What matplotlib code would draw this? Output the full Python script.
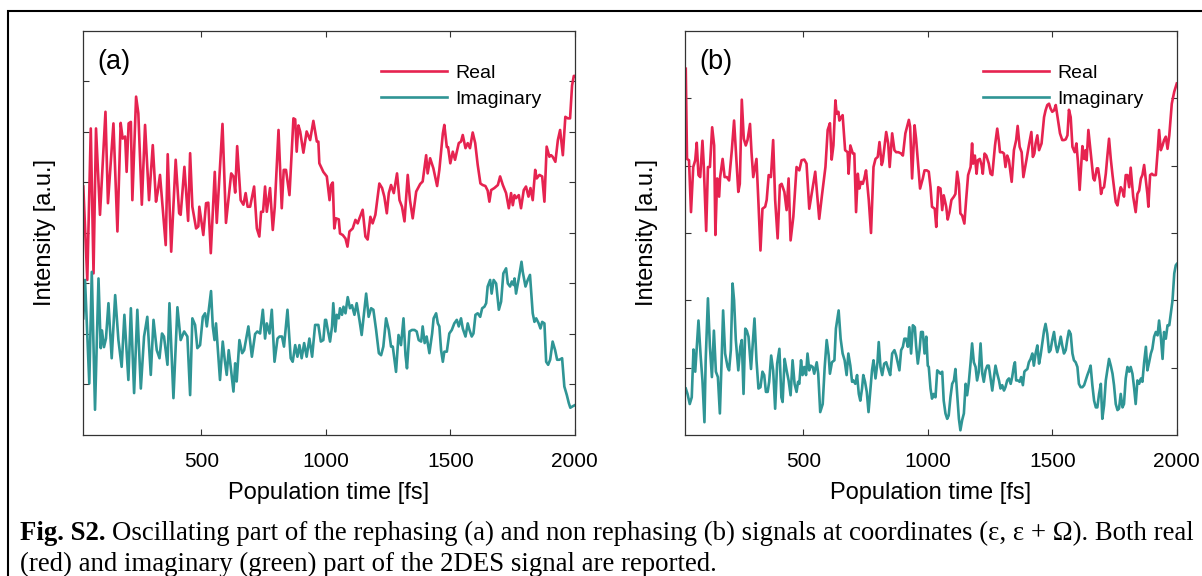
import matplotlib
matplotlib.use("Agg")
import matplotlib.pyplot as plt
from matplotlib.patches import Rectangle

plt.rcParams['font.family'] = ['Liberation Sans', 'DejaVu Sans']

# Panel (a): rephasing, real part
t_re_a = [26, 42, 56, 67, 77, 93, 115, 125, 147, 163, 176, 184, 194, 200, 208, 217, 223, 238, 247, 261,
          274, 290, 305, 318, 325, 334, 357, 365, 379, 397, 411, 417, 432, 447, 455, 464, 479, 488, 492, 508,
          519, 528, 538, 554, 562, 585, 599, 620, 629, 636, 644, 658, 669, 678, 686, 696, 712, 723, 733, 740,
          748, 756, 763, 776, 787, 795, 810, 823, 831, 840, 854, 870, 877, 883, 890, 897, 910, 923, 937, 950,
          964, 970, 974, 990, 1004, 1015, 1021, 1028, 1034, 1041, 1052, 1057, 1068, 1079, 1087, 1095, 1108, 1119, 1128, 1135,
          1148, 1159, 1168, 1179, 1188, 1199, 1215, 1226, 1235, 1245, 1253, 1262, 1273, 1286, 1296, 1306, 1316, 1329, 1338, 1349,
          1363, 1379, 1389, 1403, 1409, 1419, 1432, 1447, 1456, 1470, 1476, 1486, 1491, 1500, 1510, 1519, 1534, 1543, 1550, 1561,
          1570, 1579, 1590, 1600, 1610, 1621, 1630, 1641, 1650, 1657, 1664, 1677, 1691, 1700, 1711, 1724, 1735, 1744, 1751, 1758,
          1764, 1775, 1784, 1795, 1804, 1814, 1822, 1831, 1841, 1847, 1858, 1869, 1878, 1887, 1898, 1905, 1911, 1922, 1932, 1941,
          1952, 1962, 1972, 1981, 1989, 1996, 2000]
re_a = [0.92, -0.93, 2.07, -0.80, 2.07, 0.36, 2.40, 0.59, 2.17, 0.03, 2.18, 1.87, 1.91, 1.21, 2.17, 2.20, 0.65, 2.70, 2.37, 0.56,
        2.14, 0.65, 1.74, 0.62, 0.82, 1.15, -0.24, 1.56, -0.37, 1.45, 0.39, 0.36, 1.31, 0.24, 1.58, 0.52, 0.09, 0.13, 0.52, -0.04,
        0.59, 0.60, -0.40, 1.21, 0.20, 2.16, 0.20, 1.18, 1.12, 0.80, 1.72, 0.65, 0.56, 0.79, 0.52, 0.52, 0.92, 0.09, -0.07, 0.42,
        0.42, 0.92, 0.42, 0.89, 0.06, 0.52, 2.04, 0.49, 1.25, 1.25, 0.75, 2.27, 2.25, 1.61, 2.13, 2.01, 1.59, 2.01, 1.84, 2.22,
        1.81, 1.81, 1.38, 1.21, 1.12, 0.65, 0.95, 1.00, 0.09, 0.29, 0.27, -0.01, -0.04, -0.11, -0.27, 0.03, 0.09, 0.26, 0.19, 0.29,
        0.46, -0.07, -0.13, 0.32, 0.19, 0.36, 0.98, 0.89, 0.72, 0.39, 0.79, 0.95, 0.79, 1.18, 0.65, 0.52, 0.23, 1.15, 0.65, 0.29,
        0.82, 0.97, 1.02, 1.54, 1.18, 1.48, 1.28, 0.93, 1.25, 1.97, 2.14, 1.70, 1.70, 1.38, 1.61, 1.45, 1.78, 1.81, 1.94, 1.68,
        1.78, 1.68, 1.99, 1.78, 1.35, 0.98, 0.95, 0.93, 0.84, 0.62, 0.85, 0.89, 0.95, 1.12, 0.95, 0.79, 0.49, 0.79, 0.55, 0.75,
        0.69, 0.75, 0.49, 0.85, 0.92, 0.72, 0.89, 0.65, 1.25, 1.08, 1.15, 1.12, 0.62, 1.71, 1.51, 1.54, 1.51, 1.41, 1.84, 2.04,
        1.54, 2.30, 2.27, 2.27, 2.92, 3.11, 3.11]

# Panel (a): rephasing, imaginary part
t_im_a = [26, 33, 42, 50, 60, 73, 87, 96, 101, 109, 117, 127, 140, 154, 167, 180, 191, 207, 217, 230,
          243, 257, 270, 283, 297, 308, 321, 332, 342, 350, 364, 372, 388, 404, 417, 431, 444, 455, 464, 475,
          484, 495, 506, 515, 522, 529, 539, 546, 553, 559, 575, 586, 594, 602, 610, 618, 629, 636, 642, 653,
          664, 672, 689, 703, 716, 725, 736, 747, 756, 763, 774, 783, 794, 806, 814, 824, 832, 846, 859, 867,
          877, 886, 894, 903, 913, 923, 934, 945, 957, 970, 980, 990, 997, 1001, 1008, 1017, 1025, 1030, 1038, 1044,
          1052, 1057, 1065, 1071, 1079, 1088, 1097, 1105, 1115, 1124, 1135, 1144, 1152, 1162, 1172, 1182, 1191, 1202, 1213, 1222,
          1231, 1242, 1253, 1262, 1269, 1282, 1292, 1302, 1312, 1320, 1326, 1336, 1346, 1356, 1365, 1373, 1383, 1389, 1397, 1405,
          1416, 1427, 1433, 1443, 1450, 1456, 1463, 1470, 1476, 1486, 1496, 1506, 1516, 1526, 1534, 1543, 1550, 1561, 1570, 1577,
          1586, 1593, 1601, 1610, 1620, 1628, 1637, 1644, 1650, 1660, 1666, 1674, 1684, 1695, 1704, 1713, 1724, 1731, 1740, 1747,
          1754, 1758, 1764, 1775, 1786, 1791, 1802, 1811, 1820, 1831, 1838, 1845, 1855, 1862, 1869, 1878, 1885, 1893, 1901, 1911,
          1921, 1929, 1938, 1949, 1958, 1968, 1976, 1982, 1992, 2000]
im_a = [-1.69, -0.93, -1.99, -2.98, -0.77, -3.50, -0.90, -2.28, -1.93, -2.26, -2.09, -1.39, -2.48, -1.23, -2.12, -2.65, -1.62, -2.91, -1.49, -3.17,
        -1.52, -3.08, -2.05, -1.66, -2.81, -1.72, -2.32, -2.48, -1.99, -2.05, -2.61, -1.39, -3.27, -1.47, -2.12, -1.95, -2.05, -3.21, -1.69, -1.82,
        -2.28, -2.22, -1.66, -1.59, -1.85, -1.56, -1.15, -1.85, -2.12, -1.79, -2.91, -2.15, -2.51, -2.81, -2.32, -2.65, -3.14, -2.58, -2.94, -2.12,
        -2.38, -2.32, -1.85, -2.45, -2.00, -1.95, -1.99, -1.52, -2.09, -1.79, -1.99, -1.52, -2.55, -2.09, -2.05, -2.05, -2.25, -1.52, -2.48, -2.55,
        -2.22, -2.45, -2.22, -2.48, -2.18, -2.45, -2.09, -2.45, -1.82, -1.82, -2.15, -2.12, -1.72, -1.72, -1.92, -2.15, -1.85, -1.39, -1.95, -1.62,
        -1.69, -1.49, -1.62, -1.46, -1.59, -1.27, -1.49, -1.43, -1.62, -1.39, -1.72, -2.02, -1.66, -1.20, -1.66, -1.49, -1.52, -1.92, -2.38, -2.42,
        -2.25, -1.69, -1.92, -2.25, -2.25, -2.75, -2.02, -2.22, -1.69, -2.42, -2.68, -1.95, -1.92, -1.92, -1.95, -2.12, -2.15, -1.85, -2.18, -2.05,
        -2.38, -1.99, -1.69, -1.59, -1.79, -1.85, -2.32, -2.55, -2.35, -2.35, -1.99, -1.92, -1.79, -1.72, -1.85, -1.69, -1.89, -2.05, -1.79, -1.92,
        -2.05, -1.99, -1.62, -1.59, -1.66, -1.49, -1.46, -1.39, -1.06, -0.93, -1.20, -0.93, -1.00, -1.52, -1.36, -0.80, -0.70, -1.00, -1.06, -0.96,
        -1.03, -0.90, -1.20, -0.90, -0.57, -0.77, -1.06, -0.93, -0.83, -1.59, -1.76, -1.69, -1.79, -1.89, -1.76, -1.79, -2.55, -2.61, -2.51, -2.15,
        -2.32, -2.51, -2.51, -2.48, -3.04, -3.21, -3.37, -3.46, -3.43, -3.41]

# Panel (b): non rephasing, real part
t_re_b = [28, 33, 41, 49, 58, 66, 72, 79, 86, 95, 100, 110, 117, 125, 134, 142, 147, 154, 162, 166,
          176, 184, 193, 202, 213, 222, 229, 239, 245, 253, 261, 269, 276, 286, 292, 299, 312, 320, 328, 336,
          347, 353, 361, 370, 379, 387, 397, 406, 413, 424, 433, 441, 449, 460, 473, 484, 493, 504, 513, 524,
          535, 548, 564, 575, 589, 598, 607, 614, 621, 629, 634, 641, 645, 652, 658, 668, 678, 682, 689, 699,
          705, 712, 719, 725, 732, 739, 745, 752, 763, 772, 782, 790, 799, 806, 815, 819, 833, 841, 847, 857,
          866, 873, 882, 893, 900, 910, 924, 929, 937, 947, 953, 960, 969, 980, 987, 996, 1004, 1011, 1017, 1028,
          1034, 1042, 1051, 1058, 1064, 1074, 1080, 1087, 1095, 1105, 1111, 1118, 1125, 1131, 1138, 1147, 1154, 1162, 1172, 1178,
          1182, 1189, 1196, 1201, 1209, 1216, 1221, 1228, 1235, 1245, 1252, 1259, 1270, 1279, 1286, 1290, 1299, 1306, 1312, 1319,
          1326, 1337, 1346, 1355, 1361, 1369, 1377, 1384, 1396, 1406, 1416, 1422, 1428, 1433, 1440, 1447, 1457, 1467, 1473, 1480,
          1487, 1493, 1500, 1507, 1514, 1520, 1531, 1540, 1547, 1554, 1561, 1567, 1574, 1581, 1590, 1597, 1603, 1610, 1615, 1621,
          1628, 1634, 1638, 1645, 1652, 1658, 1665, 1670, 1679, 1684, 1691, 1696, 1701, 1708, 1715, 1721, 1728, 1735, 1742, 1748,
          1755, 1762, 1768, 1775, 1782, 1788, 1795, 1802, 1809, 1815, 1825, 1835, 1842, 1849, 1856, 1862, 1869, 1876, 1882, 1886,
          1893, 1900, 1906, 1916, 1923, 1929, 1936, 1943, 1949, 1956, 1963, 1970, 1980, 1990, 1996, 2000]
re_b = [2.44, 1.10, 1.08, 0.31, 0.98, 1.08, 1.34, 0.86, 0.83, 1.37, 1.03, 0.03, 0.98, 0.98, 1.57, 1.30, -0.03, 0.81, 0.54, 0.83,
        1.10, 0.83, 0.83, 0.78, 1.23, 1.67, 1.23, 0.61, 0.73, 1.98, 1.40, 1.30, 1.38, 1.62, 1.20, 0.83, 1.10, 0.44, -0.26, 0.36,
        0.39, 0.49, 0.86, 0.83, 1.38, 0.49, -0.08, 0.71, 0.73, 0.61, 0.34, 0.81, -0.11, 0.24, 0.98, 0.93, 1.08, 1.09, 1.03, 0.36,
        0.61, 0.91, 0.21, 0.56, 0.98, 1.53, 1.63, 1.09, 1.30, 1.97, 1.77, 1.80, 1.67, 1.72, 1.75, 1.23, 1.20, 0.88, 1.30, 1.18,
        1.18, 0.31, 0.88, 0.66, 0.76, 0.73, 0.81, 0.93, 0.49, 0.00, 0.98, 1.10, 1.13, 1.35, 1.01, 1.06, 1.50, 1.33, 0.98, 1.48,
        1.23, 1.20, 1.20, 1.18, 1.15, 1.48, 1.68, 1.58, 0.81, 1.60, 1.40, 1.08, 0.66, 0.81, 0.93, 0.93, 0.91, 0.68, 0.39, 0.36,
        0.09, 0.68, 0.66, 0.34, 0.56, 0.39, 0.20, 0.31, 0.49, 0.54, 0.58, 0.91, 0.73, 0.29, 0.26, 0.14, 0.49, 0.86, 0.98, 1.33,
        1.03, 1.15, 0.88, 1.08, 1.10, 1.01, 0.88, 1.18, 1.15, 1.03, 0.88, 0.86, 1.30, 1.55, 1.35, 1.20, 1.20, 1.18, 0.98, 1.15,
        1.08, 0.76, 1.23, 1.38, 1.59, 1.28, 1.20, 0.83, 1.08, 1.30, 1.50, 1.13, 1.18, 1.33, 1.45, 1.23, 1.33, 1.72, 1.82, 1.90,
        1.92, 1.85, 1.80, 1.82, 1.90, 1.75, 1.48, 1.38, 1.38, 1.39, 1.45, 1.83, 1.72, 1.28, 1.20, 1.33, 1.06, 0.64, 0.93, 1.29,
        1.10, 1.23, 1.08, 1.53, 1.28, 1.08, 0.81, 0.78, 0.96, 0.96, 0.78, 0.58, 0.66, 0.68, 0.88, 1.13, 1.40, 1.10, 0.86, 0.68,
        0.46, 0.41, 0.56, 0.68, 0.63, 0.54, 0.86, 0.86, 0.68, 0.97, 0.54, 0.31, 0.58, 0.63, 0.81, 0.86, 1.01, 0.78, 0.58, 0.39,
        0.86, 0.88, 0.86, 0.86, 1.20, 1.53, 1.23, 1.30, 1.38, 1.43, 1.25, 1.45, 1.92, 2.10, 2.17, 2.22]

# Panel (b): non rephasing, imaginary part
t_im_b = [28, 35, 44, 52, 59, 66, 79, 88, 95, 103, 108, 117, 125, 133, 141, 149, 157, 165, 172, 178,
          186, 196, 202, 209, 216, 222, 229, 239, 247, 253, 260, 267, 273, 280, 290, 296, 304, 312, 320, 328,
          336, 343, 350, 357, 363, 371, 379, 387, 395, 404, 412, 417, 425, 433, 441, 449, 457, 465, 473, 479,
          484, 491, 497, 504, 511, 517, 524, 530, 538, 544, 554, 560, 568, 578, 586, 594, 602, 607, 615, 625,
          631, 642, 650, 658, 666, 674, 681, 689, 696, 701, 709, 716, 723, 729, 736, 741, 748, 755, 762, 768,
          776, 782, 790, 798, 803, 810, 817, 825, 833, 841, 849, 857, 866, 873, 880, 886, 893, 900, 906, 913,
          920, 926, 933, 940, 948, 953, 960, 967, 973, 980, 987, 994, 1000, 1004, 1011, 1017, 1024, 1031, 1038, 1044,
          1051, 1058, 1064, 1071, 1078, 1084, 1091, 1098, 1105, 1111, 1118, 1125, 1131, 1138, 1145, 1152, 1158, 1165, 1172, 1178,
          1185, 1192, 1198, 1205, 1212, 1219, 1225, 1232, 1239, 1245, 1252, 1259, 1265, 1272, 1279, 1286, 1292, 1299, 1306, 1312,
          1319, 1326, 1333, 1339, 1346, 1350, 1355, 1362, 1369, 1375, 1382, 1388, 1393, 1400, 1406, 1413, 1420, 1426, 1433, 1440,
          1447, 1453, 1460, 1467, 1473, 1480, 1487, 1493, 1500, 1507, 1514, 1520, 1527, 1534, 1540, 1547, 1554, 1561, 1567, 1574,
          1581, 1587, 1594, 1601, 1607, 1614, 1621, 1628, 1634, 1641, 1648, 1654, 1661, 1668, 1675, 1681, 1688, 1695, 1701, 1708,
          1715, 1721, 1728, 1735, 1742, 1748, 1755, 1762, 1768, 1775, 1782, 1788, 1795, 1802, 1809, 1815, 1822, 1829, 1835, 1842,
          1849, 1856, 1862, 1869, 1876, 1882, 1889, 1896, 1902, 1909, 1916, 1923, 1929, 1936, 1943, 1949, 1956, 1963, 1970, 1976,
          1983, 1990, 1996, 2000]
im_b = [-2.31, -2.39, -2.54, -2.44, -1.73, -2.06, -1.30, -1.84, -2.19, -2.81, -1.89, -0.97, -1.69, -2.14, -1.45, -2.06, -2.14, -2.68, -1.89, -1.15,
        -1.79, -1.99, -2.04, -1.74, -0.75, -1.00, -1.59, -2.04, -1.69, -1.59, -2.39, -1.42, -1.45, -1.54, -2.02, -1.69, -1.27, -1.89, -2.31, -2.29,
        -2.06, -2.11, -2.36, -2.36, -2.21, -1.82, -2.04, -2.61, -1.94, -1.72, -2.44, -2.51, -1.87, -2.04, -2.19, -2.41, -1.89, -2.24, -2.36, -2.21,
        -2.24, -1.89, -2.11, -1.99, -2.11, -1.79, -2.04, -1.97, -1.99, -2.09, -1.92, -2.09, -2.66, -2.54, -1.99, -1.59, -1.82, -2.09, -1.92, -1.89,
        -1.42, -1.15, -1.57, -1.79, -1.89, -2.11, -1.79, -1.97, -2.21, -2.19, -2.24, -2.11, -2.39, -2.49, -2.31, -2.11, -2.21, -2.36, -2.66, -2.39,
        -2.04, -1.89, -2.16, -1.92, -1.62, -1.99, -2.11, -1.94, -1.92, -2.02, -2.11, -1.79, -1.74, -1.82, -1.94, -2.04, -1.74, -1.69, -1.57, -1.57,
        -1.69, -1.40, -1.79, -1.37, -1.40, -1.67, -1.94, -1.74, -1.47, -1.47, -1.79, -1.54, -1.97, -1.99, -2.31, -2.46, -2.39, -2.44, -2.04, -2.06,
        -2.09, -2.06, -2.49, -2.68, -2.76, -2.71, -2.44, -2.24, -2.19, -2.02, -2.39, -2.76, -2.93, -2.78, -2.68, -2.24, -2.41, -2.21, -1.92, -1.64,
        -1.92, -1.99, -2.19, -2.06, -1.64, -2.09, -2.21, -2.04, -1.97, -1.97, -2.16, -2.34, -2.16, -1.97, -2.09, -2.19, -2.31, -2.26, -2.34, -2.29,
        -2.19, -2.16, -2.24, -2.14, -1.97, -1.92, -2.19, -2.19, -2.21, -2.14, -2.26, -2.06, -2.04, -2.02, -1.92, -1.87, -1.79, -1.97, -1.79, -1.67,
        -1.94, -1.82, -1.64, -1.45, -1.35, -1.50, -1.77, -1.74, -1.59, -1.47, -1.67, -1.77, -1.67, -1.54, -1.67, -1.79, -1.74, -1.57, -1.45, -1.50,
        -1.79, -1.89, -1.92, -1.99, -2.24, -2.29, -2.29, -2.26, -2.19, -2.11, -2.04, -1.97, -2.26, -2.49, -2.59, -2.59, -2.39, -2.24, -2.76, -2.56,
        -2.19, -2.04, -1.87, -1.97, -2.09, -2.26, -2.54, -2.63, -2.61, -2.39, -2.59, -2.54, -2.16, -1.99, -2.06, -1.99, -2.09, -2.31, -2.54, -2.19,
        -2.24, -2.16, -2.21, -1.92, -1.69, -2.04, -1.92, -1.79, -1.72, -1.54, -1.47, -1.52, -1.30, -1.54, -1.87, -1.47, -1.57, -1.37, -1.37, -1.20,
        -1.00, -0.60, -0.48, -0.46]

x_ticks = [500, 1000, 1500, 2000]
red = '#E62350'
teal = '#2F9595'

fig = plt.figure(figsize=(12.02, 5.76), dpi=100)

# box around the whole figure (open to the right/bottom like the page crop)
fig.add_artist(Rectangle((7.5 / 1202, -0.1), 1.2, 1.1 - 11 / 576, transform=fig.transFigure,
                         fill=False, edgecolor='black', linewidth=1.5, clip_on=False))

panels = [
    (0.0691, '(a)', t_re_a, re_a, t_im_a, im_a, (-4, 4), [-3, -2, -1, 0, 1, 2, 3]),
    (0.5699, '(b)', t_re_b, re_b, t_im_b, im_b, (-3, 3), [-2, -1, 0, 1, 2]),
]

for left, tag, tr, yr, ti, yi, ylim, yt in panels:
    ax = fig.add_axes([left, 0.2448, 0.4091, 0.7014])
    ax.plot(tr, yr, color=red, lw=1.9, label='Real')
    ax.plot(ti, yi, color=teal, lw=1.9, label='Imaginary')
    ax.set_xlim(25, 2000)
    ax.set_ylim(*ylim)
    ax.set_xticks(x_ticks)
    ax.set_yticks(yt)
    ax.set_yticklabels([])
    ax.tick_params(direction='in', top=True, right=True, length=4, width=0.8,
                   labelsize=15, pad=12, color='#333333')
    for s in ax.spines.values():
        s.set_linewidth(0.9)
        s.set_color('#333333')
    ax.set_xlabel('Population time [fs]', fontsize=17)
    ax.xaxis.set_label_coords(0.5, -0.116)
    ax.set_ylabel('Intensity [a.u.]', fontsize=17)
    ax.yaxis.set_label_coords(-0.055, 0.5)
    ax.text(0.030, 0.924, tag, transform=ax.transAxes, fontsize=19.5, ha='left', va='center')
    ax.legend(loc='upper left', bbox_to_anchor=(0.605, 0.918), frameon=False, fontsize=14,
              handlelength=3.4, handletextpad=0.45, labelspacing=0.45, borderaxespad=0, borderpad=0)

# caption
cap1 = fig.text(20 / 1202, 1 - 540 / 576, 'Fig. S2.', fontsize=19.3, fontweight='bold',
                family='Liberation Serif', va='baseline', ha='left')
fig.canvas.draw()
bb = cap1.get_window_extent()
fig.text((bb.x1 + 6) / 1202, 1 - 540 / 576,
         'Oscillating part of the rephasing (a) and non rephasing (b) signals at coordinates '
         '(ε, ε + Ω). Both real',
         fontsize=19.3, family='Liberation Serif', va='baseline', ha='left')
fig.text(20 / 1202, 1 - 571 / 576, '(red) and imaginary (green) part of the 2DES signal are reported.',
         fontsize=19.3, family='Liberation Serif', va='baseline', ha='left')

fig.savefig('out.png', dpi=100)
